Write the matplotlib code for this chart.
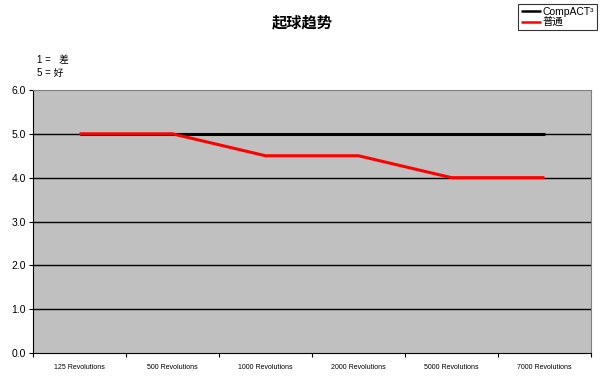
import numpy as np
import matplotlib
matplotlib.use("Agg")
import matplotlib.pyplot as plt

plt.rcParams['font.family'] = ['Liberation Sans', 'Noto Sans CJK SC', 'DejaVu Sans']

categories = ["125 Revolutions", "500 Revolutions", "1000 Revolutions",
              "2000 Revolutions", "5000 Revolutions", "7000 Revolutions"]
compact = [5, 5, 5, 5, 5, 5]
normal = [5, 5, 4.5, 4.5, 4, 4]

fig = plt.figure(figsize=(6.04, 3.78), dpi=100)
ax = fig.add_axes([33/604, 25/378, 558/604, 263/378])
ax.set_facecolor('#c0c0c0')

x = np.arange(len(categories))
ax.plot(x, compact, color='black', lw=2.2, label='CompACT³', solid_capstyle='butt', zorder=3)
ax.plot(x, normal, color='red', lw=2.2, label='普通', solid_capstyle='butt', zorder=4)

ax.set_xlim(-0.5, len(categories) - 0.5)
ax.set_ylim(0, 6)
ax.set_yticks(np.arange(0, 7, 1.0))
ax.set_yticklabels([f"{v:.1f}" for v in np.arange(0, 7, 1.0)], fontsize=7.5)
for v in range(1, 6):
    ax.axhline(v, color='black', lw=1, zorder=1)

ax.set_xticks(np.arange(-0.5, len(categories), 1.0))
ax.set_xticklabels([])
ax.set_xticks(x, minor=True)
ax.set_xticklabels(categories, minor=True, fontsize=5)
ax.tick_params(axis='x', which='minor', length=0, pad=8)
ax.tick_params(axis='x', which='major', length=3, color='black')
ax.tick_params(axis='y', length=3, pad=2)

for s in ['top', 'right']:
    ax.spines[s].set_color('#808080')
ax.spines['left'].set_color('black')
ax.spines['bottom'].set_color('black')

fig.text(0.5, 1 - 22/378, "起球趋势", ha='center', va='center', fontsize=11,
         fontweight='bold', family=['Noto Sans CJK SC'])
fig.text(37/604, 1 - 60/378, "1 =   差", ha='left', va='center', fontsize=7)
fig.text(37/604, 1 - 73/378, "5 = 好", ha='left', va='center', fontsize=7)

leg = fig.legend(loc='upper right', bbox_to_anchor=(597/604, 1 - 4/378), fontsize=7.5,
                 frameon=True, fancybox=False, edgecolor='black', handlelength=1.9,
                 borderpad=0.25, labelspacing=0.05, handletextpad=0.2, borderaxespad=0)
leg.get_frame().set_linewidth(0.8)
for line in leg.get_lines():
    line.set_linewidth(1.8)

fig.savefig("out.png", dpi=100)
